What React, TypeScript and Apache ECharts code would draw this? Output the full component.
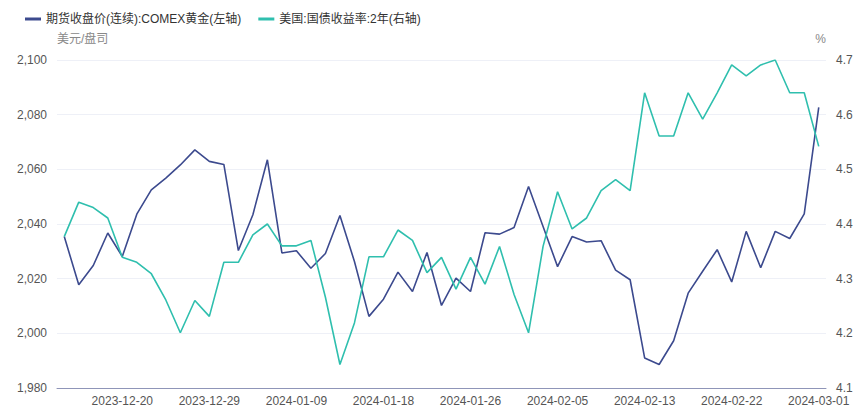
import React, { useEffect, useRef } from "react";
import * as echarts from "echarts";

const dates: string[] = [
  "2023-12-14", "2023-12-15", "2023-12-18", "2023-12-19", "2023-12-20", "2023-12-21", "2023-12-22",
  "2023-12-26", "2023-12-27", "2023-12-28", "2023-12-29", "2024-01-02", "2024-01-03", "2024-01-04",
  "2024-01-05", "2024-01-08", "2024-01-09", "2024-01-10", "2024-01-11", "2024-01-12", "2024-01-16",
  "2024-01-17", "2024-01-18", "2024-01-19", "2024-01-22", "2024-01-23", "2024-01-24", "2024-01-25",
  "2024-01-26", "2024-01-29", "2024-01-30", "2024-01-31", "2024-02-01", "2024-02-02", "2024-02-05",
  "2024-02-06", "2024-02-07", "2024-02-08", "2024-02-09", "2024-02-12", "2024-02-13", "2024-02-14",
  "2024-02-15", "2024-02-16", "2024-02-20", "2024-02-21", "2024-02-22", "2024-02-23", "2024-02-26",
  "2024-02-27", "2024-02-28", "2024-02-29", "2024-03-01",
];

const goldClose: number[] = [
  2035.4, 2017.8, 2024.8, 2036.7, 2028.1, 2043.6, 2052.5, 2056.8, 2061.6, 2067.1,
  2062.9, 2061.8, 2030.3, 2043.4, 2063.5, 2029.4, 2030.2, 2023.8, 2029.2, 2043.1,
  2026.3, 2006.2, 2012.5, 2022.4, 2015.3, 2029.6, 2010.2, 2020.2, 2015.3, 2036.8,
  2036.3, 2038.7, 2053.7, 2039.1, 2024.4, 2035.4, 2033.4, 2033.9, 2023.1, 2019.6,
  1991.0, 1988.6, 1997.3, 2014.7, 2022.7, 2030.6, 2018.8, 2037.3, 2024.0, 2037.3,
  2034.7, 2043.7, 2082.7,
];

const treasury2y: number[] = [
  4.377, 4.44, 4.43, 4.411, 4.339, 4.33, 4.309, 4.261, 4.201, 4.26,
  4.231, 4.33, 4.33, 4.38, 4.4, 4.36, 4.36, 4.37, 4.266, 4.143,
  4.219, 4.34, 4.34, 4.389, 4.37, 4.311, 4.339, 4.281, 4.339, 4.29,
  4.359, 4.271, 4.201, 4.359, 4.459, 4.391, 4.411, 4.461, 4.481, 4.461,
  4.64, 4.561, 4.561, 4.64, 4.592, 4.64, 4.691, 4.671, 4.691, 4.7,
  4.64, 4.64, 4.542,
];

const seriesNames: string[] = [
  "期货收盘价(连续):COMEX黄金(左轴)",
  "美国:国债收益率:2年(右轴)",
];

const FONT = "'Microsoft YaHei', 'Liberation Sans', 'Noto Sans CJK SC', sans-serif";

export default function App() {
  const ref = useRef<HTMLDivElement>(null);
  useEffect(() => {
    if (!ref.current) return;
    const chart = echarts.init(ref.current, undefined, { renderer: "svg" });
    chart.setOption({
      animation: false,
      textStyle: { fontFamily: FONT },
      legend: {
        left: 20,
        top: 8,
        itemWidth: 16,
        itemHeight: 3,
        itemGap: 17,
        icon: "rect",
        textStyle: { fontSize: 12, color: "#333", fontFamily: FONT },
        data: seriesNames,
      },
      grid: { left: 57, right: 39, top: 60, bottom: 26, containLabel: false },
      xAxis: {
        type: "category",
        data: dates,
        boundaryGap: true,
        axisLine: { show: true, lineStyle: { color: "#8f95b8", width: 1 } },
        axisTick: { show: false },
        axisLabel: {
          color: "#555",
          fontSize: 12,
          lineHeight: 12,
          margin: 7,
          interval: (idx: number) => idx >= 4 && (idx - 4) % 6 === 0,
          fontFamily: FONT,
        },
        splitLine: { show: false },
      },
      yAxis: [
        {
          type: "value",
          name: "美元/盘司",
          nameLocation: "end",
          nameGap: 15,
          nameTextStyle: { color: "#888", fontSize: 12, align: "left", padding: [0, 0, 0, 0], fontFamily: FONT },
          min: 1980,
          max: 2100,
          interval: 20,
          axisLine: { show: false },
          axisTick: { show: false },
          axisLabel: {
            color: "#555",
            fontSize: 12,
            margin: 10,
            fontFamily: FONT,
            formatter: (v: number) => v.toLocaleString("en-US"),
          },
          splitLine: { show: true, lineStyle: { color: "#eef0f7", width: 1 } },
        },
        {
          type: "value",
          name: "%",
          nameLocation: "end",
          nameGap: 15,
          nameTextStyle: { color: "#888", fontSize: 12, align: "right", padding: [0, 0, 0, 0], fontFamily: FONT },
          min: 4.1,
          max: 4.7,
          interval: 0.1,
          position: "right",
          axisLine: { show: false },
          axisTick: { show: false },
          axisLabel: {
            color: "#555",
            fontSize: 12,
            margin: 10,
            fontFamily: FONT,
            formatter: (v: number) => v.toFixed(1),
          },
          splitLine: { show: false },
        },
      ],
      series: [
        {
          name: seriesNames[0],
          type: "line",
          yAxisIndex: 0,
          data: goldClose,
          symbol: "none",
          lineStyle: { color: "#3c4a8e", width: 1.6 },
          itemStyle: { color: "#3c4a8e" },
        },
        {
          name: seriesNames[1],
          type: "line",
          yAxisIndex: 1,
          data: treasury2y,
          symbol: "none",
          lineStyle: { color: "#2fbfae", width: 1.6 },
          itemStyle: { color: "#2fbfae" },
        },
      ],
    });
    return () => chart.dispose();
  }, []);
  return <div ref={ref} style={{ width: 865, height: 414, margin: -8 }} />;
}
